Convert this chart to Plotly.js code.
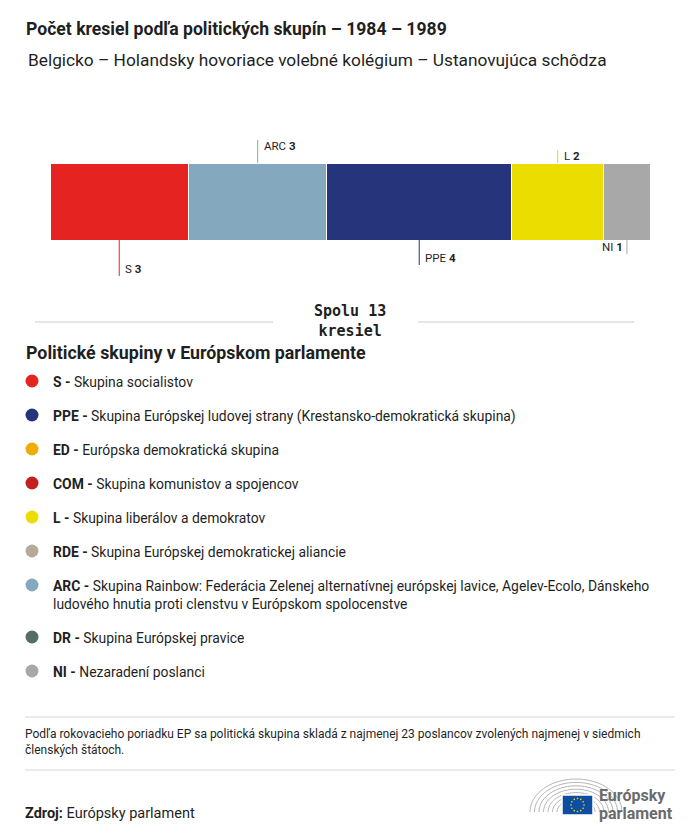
<!DOCTYPE html>
<html>
<head>
<meta charset="utf-8">
<script src="https://cdn.plot.ly/plotly-3.0.1.min.js"></script>
<style>
html,body{margin:0;padding:0;background:#fff;}
#chart{width:700px;height:838px;}
</style>
</head>
<body>
<div id="chart"></div>
<script>
// ---- data ----
const groups = ["S", "ARC", "PPE", "L", "NI"];
const seats = [3, 3, 4, 2, 1];
const groupColors = ["#e52421", "#84a9bf", "#26357b", "#ebdd00", "#a8a8a8"];
const labelSide = ["below", "above", "below", "above", "below"];
const labelAlign = ["right", "right", "right", "right", "left"];

const legendCodes = ["S", "PPE", "ED", "COM", "L", "RDE", "ARC", "DR", "NI"];
const legendNames = [
  "Skupina socialistov",
  "Skupina Európskej ludovej strany (Krestansko-demokratická skupina)",
  "Európska demokratická skupina",
  "Skupina komunistov a spojencov",
  "Skupina liberálov a demokratov",
  "Skupina Európskej demokratickej aliancie",
  "Skupina Rainbow: Federácia Zelenej alternatívnej európskej lavice, Agelev-Ecolo, Dánskeho<br>ludového hnutia proti clenstvu v Európskom spolocenstve",
  "Skupina Európskej pravice",
  "Nezaradení poslanci"
];
const legendColors = ["#e52421", "#26357b", "#f0ac00", "#c4201f", "#ebdd00", "#b6aa9a", "#84a9bf", "#566d66", "#a8a8a8"];

const titleText = "Počet kresiel podľa politických skupín – 1984 – 1989";
const subtitleText = "Belgicko – Holandsky hovoriace volebné kolégium – Ustanovujúca schôdza";
const legendTitle = "Politické skupiny v Európskom parlamente";
const footnote = "Podľa rokovacieho poriadku EP sa politická skupina skladá z najmenej 23 poslancov zvolených najmenej v siedmich<br>členských štátoch.";
const sourceText = "<b>Zdroj:</b> Európsky parlament";

// ---- layout helpers ----
const W = 700, H = 838;
const py = p => 1 - p / H;   // pixel y -> paper
const px = p => p / W;       // pixel x -> paper
const FONT = "Roboto, 'DejaVu Sans', sans-serif";
const TXT = "#1f1f1f";

const total = seats.reduce((a, b) => a + b, 0);
const barTop = 163, barBottom = 240;

const traces = groups.map((g, i) => ({
  type: "bar",
  orientation: "h",
  y: ["seats"],
  x: [seats[i]],
  name: g,
  marker: {color: groupColors[i], line: {color: "#ffffff", width: 1}},
  hoverinfo: "skip",
  showlegend: false
}));

const shapes = [];
const annotations = [];

// leader lines + labels
let cum = 0;
const aboveLen = {"ARC": 23, "L": 13};
const belowLen = {"S": 36, "PPE": 25, "NI": 14};
groups.forEach((g, i) => {
  const c = cum + seats[i] / 2;
  cum += seats[i];
  let y0, y1, ty;
  if (labelSide[i] === "above") {
    y0 = barTop; y1 = barTop - aboveLen[g]; ty = y1 + 6;
  } else {
    y0 = barBottom; y1 = barBottom + belowLen[g]; ty = y1 - 7;
  }
  shapes.push({type: "line", xref: "x", yref: "paper", x0: c, x1: c, y0: py(y0), y1: py(y1),
    line: {color: groupColors[i], width: 1}});
  const right = labelAlign[i] === "right";
  annotations.push({
    xref: "x", yref: "paper", x: c, y: py(ty),
    xanchor: right ? "left" : "right", yanchor: "middle",
    xshift: right ? 4 : -2,
    text: g + " <b>" + seats[i] + "</b>", showarrow: false,
    font: {family: FONT, size: 11.5, color: TXT}
  });
});

// title & subtitle
annotations.push({xref: "paper", yref: "paper", x: px(24), y: py(29), xanchor: "left", yanchor: "middle",
  text: "<b>" + titleText + "</b>", showarrow: false, font: {family: FONT, size: 17.6, color: TXT}});
annotations.push({xref: "paper", yref: "paper", x: px(26), y: py(60), xanchor: "left", yanchor: "middle",
  text: subtitleText, showarrow: false, font: {family: FONT, size: 17.3, color: TXT}});

// total
annotations.push({xref: "paper", yref: "paper", x: 0.5, y: py(321), xanchor: "center", yanchor: "middle",
  text: "<b>Spolu " + total + "<br>kresiel</b>", showarrow: false,
  font: {family: "'DejaVu Sans Mono', 'Liberation Mono', monospace", size: 15, color: TXT}});
shapes.push({type: "line", xref: "paper", yref: "paper", x0: px(35), x1: px(273), y0: py(322), y1: py(322),
  line: {color: "#cccccc", width: 1}});
shapes.push({type: "line", xref: "paper", yref: "paper", x0: px(418), x1: px(634), y0: py(322), y1: py(322),
  line: {color: "#cccccc", width: 1}});

// legend heading
annotations.push({xref: "paper", yref: "paper", x: px(24), y: py(352), xanchor: "left", yanchor: "middle",
  text: "<b>" + legendTitle + "</b>", showarrow: false, font: {family: FONT, size: 17.8, color: TXT}});

// legend items
const legendY = [381, 415, 449, 483, 517, 551, 585, 637, 671];
legendCodes.forEach((code, i) => {
  const yy = legendY[i];
  shapes.push({type: "circle", xref: "paper", yref: "paper", xsizemode: "pixel", ysizemode: "pixel",
    xanchor: px(32), yanchor: py(yy), x0: -6.5, x1: 6.5, y0: -6.5, y1: 6.5,
    fillcolor: legendColors[i], line: {width: 0}});
  annotations.push({xref: "paper", yref: "paper", x: px(51), y: py(yy - 9), xanchor: "left", yanchor: "top",
    align: "left", text: "<b>" + code + " -</b> " + legendNames[i], showarrow: false,
    font: {family: FONT, size: 13.9, color: TXT}});
});

// footnote
shapes.push({type: "line", xref: "paper", yref: "paper", x0: px(25), x1: px(675), y0: py(717), y1: py(717),
  line: {color: "#d6d6d6", width: 1}});
shapes.push({type: "line", xref: "paper", yref: "paper", x0: px(25), x1: px(675), y0: py(770), y1: py(770),
  line: {color: "#d6d6d6", width: 1}});
annotations.push({xref: "paper", yref: "paper", x: px(23), y: py(725), xanchor: "left", yanchor: "top",
  align: "left", text: footnote, showarrow: false, font: {family: FONT, size: 12, color: TXT}});

// source
annotations.push({xref: "paper", yref: "paper", x: px(23), y: py(813), xanchor: "left", yanchor: "middle",
  text: sourceText, showarrow: false, font: {family: FONT, size: 14.5, color: TXT}});

// logo: hemicycle arcs
for (let k = 0; k < 7; k++) {
  const rx = 46 - k * 4.5, ry = 33 - k * 3.4;
  const cx = 576, cy = 812;
  shapes.push({type: "path", xref: "paper", yref: "paper",
    path: (() => {
      let d = "";
      for (let t = 0; t <= 40; t++) {
        const a = Math.PI - Math.PI * t / 40;
        const X = px(cx + rx * Math.cos(a));
        const Y = py(cy - ry * Math.sin(a));
        d += (t === 0 ? "M" : "L") + X + "," + Y;
      }
      return d;
    })(),
    line: {color: "#b5b5b5", width: 1}});
}
shapes.push({type: "rect", xref: "paper", yref: "paper", x0: px(562), x1: px(593), y0: py(795), y1: py(815),
  fillcolor: "#0f4da1", line: {color: "#ffffff", width: 1.5}});
for (let s = 0; s < 12; s++) {
  const a = 2 * Math.PI * s / 12;
  const sx = 577.5 + 6.5 * Math.cos(a), sy = 805 + 6.5 * Math.sin(a);
  shapes.push({type: "circle", xref: "paper", yref: "paper", xsizemode: "pixel", ysizemode: "pixel",
    xanchor: px(sx), yanchor: py(sy), x0: -0.8, x1: 0.8, y0: -0.8, y1: 0.8,
    fillcolor: "#ffdd00", line: {width: 0}});
}
annotations.push({xref: "paper", yref: "paper", x: px(597), y: py(795), xanchor: "left", yanchor: "middle",
  text: "<b>Európsky</b>", showarrow: false, font: {family: FONT, size: 16, color: "#6b6b6b"}});
annotations.push({xref: "paper", yref: "paper", x: px(597), y: py(813), xanchor: "left", yanchor: "middle",
  text: "<b>parlament</b>", showarrow: false, font: {family: FONT, size: 16, color: "#6b6b6b"}});

const layout = {
  width: W, height: H,
  margin: {l: 0, r: 0, t: 0, b: 0},
  paper_bgcolor: "#ffffff", plot_bgcolor: "#ffffff",
  barmode: "stack", bargap: 0,
  showlegend: false,
  xaxis: {domain: [px(50), px(650)], range: [0, total], visible: false, fixedrange: true},
  yaxis: {domain: [py(barBottom), py(barTop)], range: [-0.5, 0.5], visible: false, fixedrange: true, type: "category"},
  shapes: shapes,
  annotations: annotations
};

Plotly.newPlot("chart", traces, layout, {displayModeBar: false, staticPlot: true});
</script>
</body>
</html>
